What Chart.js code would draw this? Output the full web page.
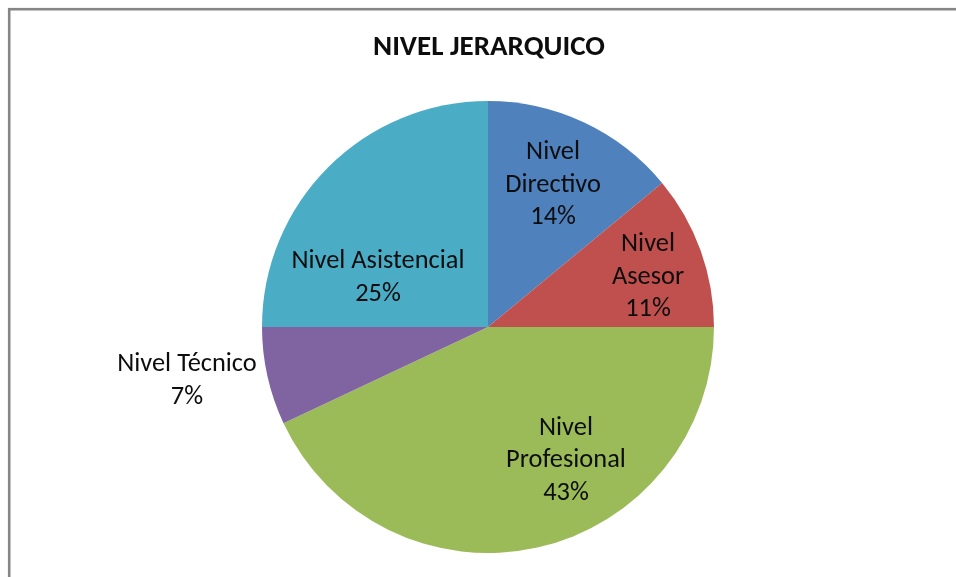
<!DOCTYPE html>
<html lang="es">
<head>
    <meta charset="UTF-8">
    <title>Nivel Jerarquico</title>
    <script src="https://cdn.jsdelivr.net/npm/chart.js"></script>
    <style>
        html, body { margin: 0; padding: 0; background: #fff; }
        #grafico { display: block; }
    </style>
</head>
<body>
    <canvas id="grafico" width="956" height="577"></canvas>
<script>
    // datos
    var titulo = 'NIVEL JERARQUICO'
    var categorias = ['Nivel Directivo', 'Nivel Asesor', 'Nivel Profesional', 'Nivel Técnico', 'Nivel Asistencial']
    var valores = [14, 11, 43, 7, 25]

    // estilo
    var colores = ['#4F81BD', '#C0504D', '#9BBB59', '#8064A2', '#4BACC6']
    // donde va cada etiqueta (en radios, desde el centro) y si se parte en dos lineas
    var posEtiquetas = [
        { dx: 0.288, dy: -0.633, partir: true },
        { dx: 0.708, dy: -0.226, partir: true },
        { dx: 0.345, dy: 0.586, partir: true },
        { dx: -1.332, dy: 0.235, partir: false },
        { dx: -0.487, dy: -0.221, partir: false }
    ]
    var fuente = 'Carlito, Lato, sans-serif'

    var etiquetas = {
        id: 'etiquetas',
        beforeDraw(chart) {
            const ctx = chart.ctx
            ctx.save()
            ctx.strokeStyle = '#858585'
            ctx.lineWidth = 2.6
            ctx.strokeRect(9.2, 9.2, 1200, 1200)
            ctx.restore()
        },
        afterDraw(chart) {
            const ctx = chart.ctx
            const arcos = chart.getDatasetMeta(0).data
            const total = valores.reduce((a, b) => a + b, 0)
            ctx.save()
            ctx.fillStyle = '#0d0d0d'
            ctx.textAlign = 'center'
            ctx.textBaseline = 'middle'

            ctx.font = 'bold 29px ' + fuente
            ctx.fillText(titulo, 489, 48)

            ctx.font = '26.4px ' + fuente
            arcos.forEach((arco, i) => {
                const p = posEtiquetas[i]
                const x = arco.x + p.dx * arco.outerRadius
                const y = arco.y + p.dy * arco.outerRadius
                const pct = Math.round(valores[i] / total * 100) + '%'
                let lineas = p.partir ? categorias[i].split(' ') : [categorias[i]]
                lineas.push(pct)
                const alto = 32.5
                const y0 = y - (lineas.length - 1) * alto / 2
                lineas.forEach((t, j) => ctx.fillText(t, x, y0 + j * alto + 1))
            })
            ctx.restore()
        }
    }

    new Chart(document.getElementById('grafico'), {
        type: 'pie',
        data: {
            labels: categorias,
            datasets: [{
                data: valores,
                backgroundColor: colores,
                borderWidth: 0
            }]
        },
        options: {
            responsive: false,
            animation: false,
            layout: { padding: { top: 101, bottom: 24, left: 262, right: 242 } },
            plugins: {
                legend: { display: false },
                tooltip: { enabled: false },
                title: { display: false }
            }
        },
        plugins: [etiquetas]
    })
</script>
</body>
</html>
